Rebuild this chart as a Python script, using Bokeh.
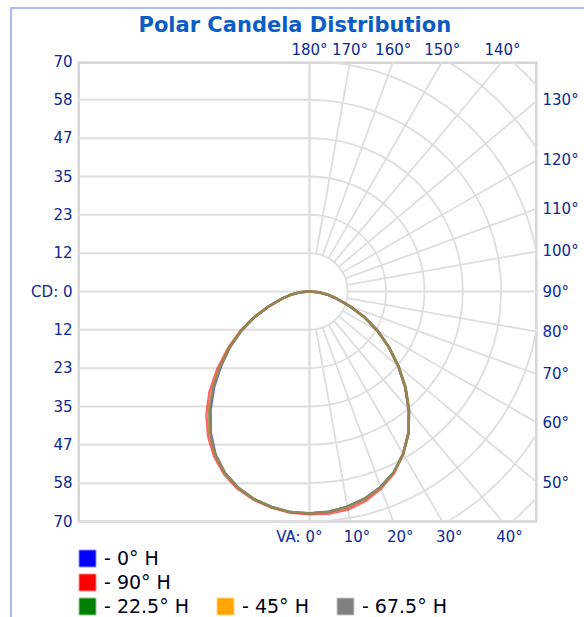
import math
from bokeh.plotting import figure
from bokeh.models import (FixedTicker, CustomJSTickFormatter, LinearAxis, Range1d,
                          Legend, LegendItem)
from bokeh.core.properties import value
from bokeh.embed import file_html
from bokeh.resources import INLINE

# ---------------- data ----------------
title_text = "Polar Candela Distribution"
cd_max = 70
n_rings = 6
cd_tick_labels = ["70", "58", "47", "35", "23", "12", "CD: 0", "12", "23", "35", "47", "58", "70"]

va_angles = [0, 5, 10, 15, 20, 25, 30, 35, 40, 45, 50, 55, 60, 65, 70, 75, 80, 85, 90]

series_names = ["- 0° H", "- 90° H", "- 22.5° H", "- 45° H", "- 67.5° H"]
series_colors = ["#0000ff", "#ff0000", "#008000", "#ffa500", "#808080"]

# candela values on the right half (H plane) and left half (opposite plane)
cd_0_right = [67.6, 67.3, 66.5, 65.2, 63.3, 60.7, 57.1, 52.6, 47.1, 41.3, 35.3, 29.4, 23.9, 18.4, 12.9, 8.7, 5.7, 2.8, 0.0]
cd_0_left = [67.6, 67.4, 66.6, 65.4, 63.5, 60.9, 57.2, 52.4, 46.8, 41.0, 35.0, 29.6, 24.1, 18.6, 13.2, 9.0, 5.9, 3.0, 0.0]
cd_90_right = [67.8, 67.9, 67.4, 66.0, 63.8, 61.0, 57.0, 52.5, 47.0, 41.2, 35.2, 29.5, 24.0, 18.5, 13.0, 8.8, 5.8, 2.9, 0.0]
cd_90_left = [67.8, 67.6, 66.8, 65.6, 63.9, 61.4, 58.0, 53.8, 48.8, 43.0, 36.6, 30.4, 24.5, 18.7, 13.1, 8.8, 5.8, 2.9, 0.0]
cd_225_right = [67.5, 67.3, 66.5, 65.2, 63.3, 60.7, 57.0, 52.6, 47.2, 41.4, 35.4, 29.6, 24.0, 18.5, 13.0, 8.8, 5.8, 2.9, 0.0]
cd_225_left = [67.5, 67.4, 66.6, 65.4, 63.6, 61.0, 57.4, 52.8, 47.4, 41.5, 35.4, 29.6, 24.0, 18.5, 13.0, 8.8, 5.8, 2.9, 0.0]
cd_45_right = [67.6, 67.4, 66.6, 65.3, 63.4, 60.8, 57.1, 52.5, 47.1, 41.3, 35.3, 29.5, 24.0, 18.5, 13.0, 8.8, 5.8, 2.9, 0.0]
cd_45_left = [67.6, 67.4, 66.7, 65.4, 63.6, 61.0, 57.4, 52.9, 47.5, 41.6, 35.5, 29.7, 24.1, 18.6, 13.1, 8.9, 5.8, 2.9, 0.0]
cd_675_right = [67.6, 67.4, 66.6, 65.3, 63.4, 60.8, 57.0, 52.5, 47.0, 41.2, 35.2, 29.5, 24.0, 18.5, 13.0, 8.8, 5.8, 2.9, 0.0]
cd_675_left = [67.6, 67.4, 66.6, 65.4, 63.5, 61.0, 57.3, 52.8, 47.4, 41.5, 35.4, 29.6, 24.0, 18.5, 13.0, 8.8, 5.8, 2.9, 0.0]

series_right = [cd_0_right, cd_90_right, cd_225_right, cd_45_right, cd_675_right]
series_left = [cd_0_left, cd_90_left, cd_225_left, cd_45_left, cd_675_left]

top_angles = [180, 170, 160, 150, 140]
right_angles = [130, 120, 110, 100, 90, 80, 70, 60, 50]
bottom_angles = [0, 10, 20, 30, 40]
bottom_first_label = "VA: 0°"
radial_angles = list(range(0, 181, 10))

# ---------------- styling ----------------
label_color = "#0a2a96"
title_color = "#0b5cc4"
grid_color = "#dedede"
frame_color = "#d6d6d6"
border_color = "#a6bdf6"
font = "DejaVu Sans"

frame_w, frame_h = 460, 558
x_left, x_right = -70.6, 69.4
y_top = cd_max
y_bottom = -cd_max
px_per_cd = frame_w / (x_right - x_left)
y_view_bottom = y_top - frame_h / px_per_cd

p = figure(frame_width=frame_w, frame_height=frame_h,
           x_range=Range1d(x_left, x_right), y_range=Range1d(y_view_bottom, y_top),
           output_backend="svg", toolbar_location=None,
           x_axis_location=None, y_axis_location=None,
           min_border_left=65, min_border_right=47, min_border_top=50, min_border_bottom=0)
p.xgrid.visible = False
p.ygrid.visible = False
p.background_fill_color = "white"
p.border_fill_color = "white"
p.outline_line_color = None
p.styles = {"margin-left": "10px", "margin-top": "7px",
            "border-top": f"2px solid {border_color}", "border-left": f"2px solid {border_color}"}

p.title.text = title_text
p.title.text_font = font
p.title.text_font_style = "bold"
p.title.text_font_size = "21px"
p.title.text_color = title_color
p.title.align = "left"
p.title.offset = 61
p.title.standoff = 2

# ---- chart box (frame of the polar diagram) ----
p.segment(x0=[x_left, x_left, x_right], y0=[y_bottom, y_top, y_top],
          x1=[x_left, x_right, x_right], y1=[y_top, y_top, y_bottom],
          line_color=frame_color, line_width=5)
p.segment(x0=[x_left], y0=[y_bottom], x1=[x_right], y1=[y_bottom], line_color=frame_color, line_width=2.5)

# ---- grid ----
ring_values = [cd_max * k / n_rings for k in range(1, n_rings + 3)]
cd_ticks = [cd_max * k / n_rings for k in range(-n_rings, n_rings + 1)][::-1]

# left half horizontal lines
p.segment(x0=[x_left] * len(cd_ticks), x1=[0] * len(cd_ticks), y0=cd_ticks, y1=cd_ticks,
          line_color=grid_color, line_width=2)
# center vertical line
p.segment(x0=[0], x1=[0], y0=[y_bottom], y1=[y_top], line_color=grid_color, line_width=2)
# right half arcs (kept inside the box)
arc_start = [-math.asin(min(1.0, cd_max / r)) for r in ring_values]
arc_end = [math.asin(min(1.0, cd_max / r)) for r in ring_values]
p.arc(x=[0] * len(ring_values), y=[0] * len(ring_values), radius=ring_values,
      start_angle=arc_start, end_angle=arc_end, line_color=grid_color, line_width=1.8)


# radial lines, from the first ring to the box edge
def box_hit(a):
    dx, dy = math.sin(math.radians(a)), -math.cos(math.radians(a))
    ts = []
    if dx > 1e-9:
        ts.append(x_right / dx)
    if dy > 1e-9:
        ts.append(y_top / dy)
    if dy < -1e-9:
        ts.append(y_bottom / dy)
    return min(ts)


r0 = ring_values[0]
rx0 = [r0 * math.sin(math.radians(a)) for a in radial_angles]
ry0 = [-r0 * math.cos(math.radians(a)) for a in radial_angles]
rx1 = [box_hit(a) * math.sin(math.radians(a)) for a in radial_angles]
ry1 = [-box_hit(a) * math.cos(math.radians(a)) for a in radial_angles]
p.segment(x0=rx0, y0=ry0, x1=rx1, y1=ry1, line_color=grid_color, line_width=1.8)

# ---- curves ----
for right, left, color in zip(series_right, series_left, series_colors):
    xs = [r * math.sin(math.radians(a)) for r, a in zip(right, va_angles)]
    ys = [-r * math.cos(math.radians(a)) for r, a in zip(right, va_angles)]
    xs += [-r * math.sin(math.radians(a)) for r, a in zip(left[::-1], va_angles[::-1])]
    ys += [-r * math.cos(math.radians(a)) for r, a in zip(left[::-1], va_angles[::-1])]
    p.line(xs, ys, line_color=color, line_width=2.5, line_alpha=0.6)


# ---- axes ----
def make_formatter(pos, labels):
    return CustomJSTickFormatter(args=dict(pos=pos, labels=labels), code="""
        let best = 0, bd = Infinity;
        for (let i = 0; i < pos.length; i++) {
            const d = Math.abs(pos[i] - tick);
            if (d < bd) { bd = d; best = i; }
        }
        return labels[best];
    """)


def style_axis(ax, standoff):
    ax.axis_line_color = None
    ax.major_tick_line_color = None
    ax.minor_tick_line_color = None
    ax.major_tick_out = 0
    ax.major_tick_in = 0
    ax.minor_tick_out = 0
    ax.major_label_standoff = standoff
    ax.major_label_text_font = font
    ax.major_label_text_font_size = "15px"
    ax.major_label_text_color = label_color


left_ax = LinearAxis(ticker=FixedTicker(ticks=cd_ticks), formatter=make_formatter(cd_ticks, cd_tick_labels))
style_axis(left_ax, 5)
p.add_layout(left_ax, "left")

right_pos = [-x_right * math.cos(math.radians(a)) / math.sin(math.radians(a)) for a in right_angles]
right_ax = LinearAxis(ticker=FixedTicker(ticks=right_pos),
                      formatter=make_formatter(right_pos, [f"{a}°" for a in right_angles]))
style_axis(right_ax, 5)
p.add_layout(right_ax, "right")

top_pos = [y_top * math.tan(math.radians(180 - a)) for a in top_angles]
top_ax = LinearAxis(ticker=FixedTicker(ticks=top_pos),
                    formatter=make_formatter(top_pos, [f"{a}°" for a in top_angles]))
style_axis(top_ax, 3)
p.add_layout(top_ax, "above")

# bottom (VA) labels, under the box
bottom_pos = [-y_bottom * math.tan(math.radians(a)) for a in bottom_angles]
p.text(x=bottom_pos[1:], y=[y_bottom] * (len(bottom_pos) - 1), text=[f"{a}°" for a in bottom_angles[1:]],
       text_align="center", text_baseline="top", x_offset=7, y_offset=6,
       text_font=value(font), text_font_size=value("15px"), text_color=label_color)
p.text(x=bottom_pos[:1], y=[y_bottom], text=[bottom_first_label],
       text_align="right", text_baseline="top", x_offset=13, y_offset=6,
       text_font=value(font), text_font_size=value("15px"), text_color=label_color)

# ---- legend ----
items = []
nan = float("nan")
for name, color in zip(series_names, series_colors):
    r = p.quad(left=[nan], right=[nan], top=[nan], bottom=[nan], fill_color=color,
               line_color=color, line_alpha=0.45, line_width=2)
    items.append(LegendItem(label=name, renderers=[r]))


def style_legend(lg, spacing, padding):
    lg.glyph_width = 20
    lg.glyph_height = 20
    lg.label_height = 18
    lg.label_standoff = 7
    lg.spacing = spacing
    lg.padding = padding
    lg.margin = 0
    lg.border_line_color = None
    lg.background_fill_alpha = 0
    lg.label_text_font = font
    lg.label_text_font_size = "19px"
    lg.label_text_color = "#000018"
    lg.label_text_baseline = "middle"


legend1 = Legend(items=items[:2], orientation="vertical", location=(0, 26))
style_legend(legend1, 2, 2)
legend2 = Legend(items=items[2:], orientation="horizontal", location=(0, 2))
style_legend(legend2, 26, 1)
p.add_layout(legend1)
p.add_layout(legend2)

open("out.html", "w").write(file_html(p, INLINE))
